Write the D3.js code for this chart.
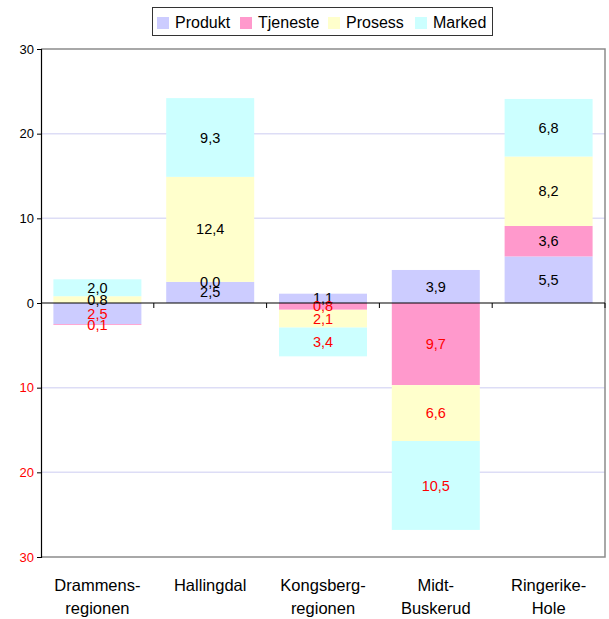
<!DOCTYPE html>
<html><head><meta charset="utf-8">
<script src="https://cdn.jsdelivr.net/npm/d3@7"></script>
<style>body{margin:0;background:#fff;} text{font-family:"Liberation Sans",Arial,sans-serif;}</style>
</head><body>
<svg id="c" width="609" height="619"></svg>
<script>
const categories = [["Drammens-","regionen"],["Hallingdal"],["Kongsberg-","regionen"],["Midt-","Buskerud"],["Ringerike-","Hole"]];
const seriesNames = ["Produkt","Tjeneste","Prosess","Marked"];
const seriesColors = ["#CCCCFF","#FF99CC","#FFFFCC","#CCFFFF"];
const produkt  = [-2.5, 2.5,  1.1,  3.9, 5.5];
const tjeneste = [-0.1, 0.0, -0.8, -9.7, 3.6];
const prosess  = [ 0.8, 12.4, -2.1, -6.6, 8.2];
const marked   = [ 2.0, 9.3, -3.4, -10.5, 6.8];
const yTicks = [30,20,10,0,-10,-20,-30];

const series = [produkt, tjeneste, prosess, marked];
const svg = d3.select("#c");
const L=41, R=605, T=49, B=557;
const keys = categories.map(c=>c.join(""));
const x = d3.scaleBand().domain(keys).range([L,R]).paddingInner(0.22).paddingOuter(0.11);
const xb = d3.scaleBand().domain(keys).range([L,R]).padding(0);
const y = d3.scaleLinear().domain([-30,30]).range([B,T]);

// gridlines
svg.append("g").selectAll("line").data([20,10,-10,-20]).join("line")
  .attr("x1",L).attr("x2",R).attr("y1",d=>y(d)).attr("y2",d=>y(d))
  .attr("stroke","#DDDDF6").attr("stroke-width",1.5);
// plot border (top/right/bottom)
svg.append("path").attr("d",`M${L},${y(30)}H${R}V${y(-30)}H${L}`)
  .attr("fill","none").attr("stroke","#8c8c8c").attr("stroke-width",1.5);

// stacked bars
const fmt = v => v.toFixed(1).replace(".",",");
const gBars = svg.append("g");
const gLab = svg.append("g");
keys.forEach((k,i)=>{
  let pos=0, neg=0;
  series.forEach((s,j)=>{
    const v=s[i];
    let y0,y1;
    if(v>=0){y0=pos;y1=pos+v;pos=y1;} else {y0=neg;y1=neg+v;neg=y1;}
    gBars.append("rect").attr("x",x(k)).attr("width",x.bandwidth())
      .attr("y",y(Math.max(y0,y1))).attr("height",Math.abs(y(y0)-y(y1)))
      .attr("fill",seriesColors[j]);
    gLab.append("text").attr("x",x(k)+x.bandwidth()/2).attr("y",y((y0+y1)/2))
      .attr("dy","0.35em").attr("text-anchor","middle").attr("font-size",14.5)
      .attr("fill",v<0?"#FF0000":"#000").text(fmt(Math.abs(v)));
  });
});

// y axis
const ya = svg.append("g").attr("transform",`translate(${L},0)`)
  .call(d3.axisLeft(y).tickValues(yTicks).tickSize(4).tickPadding(3).tickFormat(d=>Math.abs(d)));
ya.select(".domain").attr("stroke","#000").attr("stroke-width",1.2);
ya.selectAll("line").attr("stroke","#000");
ya.selectAll("text").attr("font-size",13).attr("font-family","Liberation Sans, Arial, sans-serif")
  .attr("fill",d=>d<0?"#FF0000":"#000");

// zero line with category ticks
svg.append("line").attr("x1",L).attr("x2",R).attr("y1",y(0)).attr("y2",y(0)).attr("stroke","#000").attr("stroke-width",1.2);
svg.append("g").selectAll("line").data(keys.slice(1).concat(["__end"])).join("line")
  .attr("x1",d=>d==="__end"?R:xb(d)).attr("x2",d=>d==="__end"?R:xb(d))
  .attr("y1",y(0)).attr("y2",y(0)+5).attr("stroke","#000");

// category labels
categories.forEach((c,i)=>{
  const t = svg.append("text").attr("text-anchor","middle").attr("font-size",16.5)
    .attr("x",xb(keys[i])+xb.bandwidth()/2).attr("y",591).attr("fill","#000");
  c.forEach((line,li)=>t.append("tspan").attr("x",xb(keys[i])+xb.bandwidth()/2).attr("dy",li?23:0).text(line));
});

// legend
const lg = svg.append("g");
lg.append("rect").attr("x",152.5).attr("y",7.5).attr("width",340).attr("height",28)
  .attr("fill","#fff").attr("stroke","#333").attr("stroke-width",1);
const legX = [157,240,328,415];
seriesNames.forEach((n,j)=>{
  lg.append("rect").attr("x",legX[j]).attr("y",17).attr("width",12).attr("height",12).attr("fill",seriesColors[j]);
  lg.append("text").attr("x",legX[j]+18).attr("y",28).attr("font-size",16).attr("fill","#000").text(n);
});
</script>
</body></html>
